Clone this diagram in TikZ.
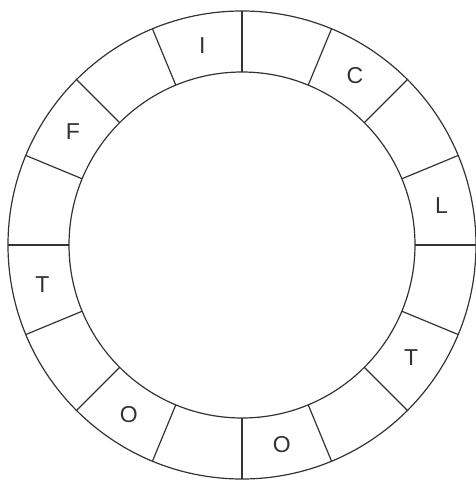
\documentclass[tikz,border=0pt]{standalone}
\usepackage{fontspec}
\setmainfont{Liberation Sans}
\usetikzlibrary{positioning}

\begin{document}
\begin{tikzpicture}[
            x=1pt, y=1pt,
            ring/.style={draw=black!80, line width=1.2pt},
            letter/.style={font=\fontsize{23}{26}\selectfont, text=black!80}
        ]
            \useasboundingbox (-242,-235) rectangle (233,245);
            \coordinate (c) at (0,0);

            \draw [ring] (c) circle (234);
            \draw [ring] (c) circle (173);
            \foreach \a in {0,22.5,...,337.5}
                \draw [ring] (\a:173) -- (\a:234);

            \node [letter] (c1) at (56.25:203.5) {C};
            \node [letter] (l1) at (11.25:203.5) {L};
            \node [letter] (t1) at (326.25:203.5) {T};
            \node [letter] (o1) at (281.25:203.5) {O};
            \node [letter] (o2) at (236.25:203.5) {O};
            \node [letter] (t2) at (191.25:203.5) {T};
            \node [letter] (f1) at (146.25:203.5) {F};
            \node [letter] (i1) at (101.25:203.5) {I};

        \end{tikzpicture}
\end{document}
